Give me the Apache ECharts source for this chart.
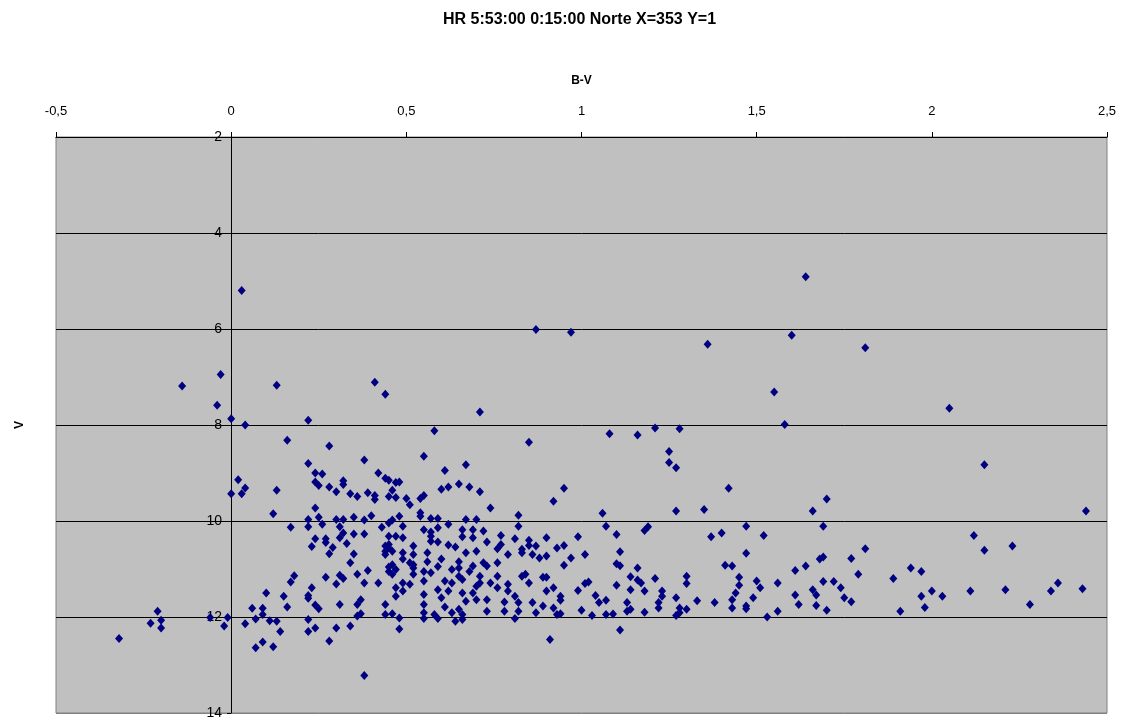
<!DOCTYPE html>
<html>
<head>
<meta charset="utf-8">
<script src="https://cdn.jsdelivr.net/npm/echarts@6/dist/echarts.min.js"></script>
<style>
  html, body { margin: 0; padding: 0; background: #fff; }
  #chart { width: 1124px; height: 723px; }
</style>
</head>
<body>
<div id="chart"></div>
<script>
// [B-V, V], grouped by region
const brightStars = [
  [0.03, 5.20], [-0.14, 7.19], [-0.03, 6.95], [-0.04, 7.59], [0.00, 7.87], [0.04, 8.00],
  [0.13, 7.17], [0.22, 7.90], [0.41, 7.11], [0.44, 7.36], [0.58, 8.12], [0.71, 7.73],
  [0.87, 6.01], [0.97, 6.07], [1.36, 6.32], [1.60, 6.13], [1.64, 4.91], [1.81, 6.39],
  [1.55, 7.31], [2.05, 7.65], [1.21, 8.06], [1.28, 8.08], [1.58, 7.99], [1.08, 8.18],
  [1.16, 8.21], [0.85, 8.36], [1.25, 8.55], [1.25, 8.78], [1.27, 8.89], [2.15, 8.83]
]
const blueStars = [
  [0.02, 9.14], [0.04, 9.31], [0.03, 9.43], [0.00, 9.43], [-0.21, 11.88], [-0.23, 12.13],
  [-0.20, 12.07], [-0.20, 12.23], [-0.32, 12.45], [-0.06, 12.01], [-0.01, 12.01],
  [-0.02, 12.19], [0.04, 12.14]
]
const whiteStars = [
  [0.16, 8.32], [0.28, 8.44], [0.22, 8.80], [0.38, 8.73], [0.24, 9.00], [0.26, 9.02],
  [0.24, 9.19], [0.25, 9.26], [0.28, 9.29], [0.30, 9.39], [0.32, 9.16], [0.32, 9.24],
  [0.34, 9.43], [0.36, 9.49], [0.39, 9.41], [0.41, 9.47], [0.41, 9.55], [0.42, 9.00],
  [0.44, 9.11], [0.45, 9.15], [0.46, 9.36], [0.45, 9.49], [0.47, 9.51], [0.47, 9.20],
  [0.13, 9.36], [0.12, 9.85], [0.17, 10.13], [0.24, 9.73], [0.22, 9.97], [0.22, 10.12],
  [0.25, 9.92], [0.26, 10.07], [0.24, 10.37], [0.23, 10.53], [0.27, 10.37], [0.27, 10.45],
  [0.29, 10.55], [0.28, 10.68], [0.30, 9.97], [0.32, 9.97], [0.31, 10.12], [0.32, 10.25],
  [0.31, 10.35], [0.33, 10.47], [0.35, 9.92], [0.35, 10.27], [0.38, 9.98], [0.38, 10.27],
  [0.40, 9.89], [0.35, 10.69], [0.34, 10.87], [0.43, 10.13], [0.45, 10.04], [0.46, 9.98],
  [0.45, 10.32], [0.47, 10.32], [0.44, 10.52], [0.45, 10.56], [0.44, 10.63], [0.46, 10.63],
  [0.44, 10.70], [0.45, 10.96], [0.47, 11.01], [0.46, 11.11], [0.45, 10.49], [0.45, 11.05],
  [0.46, 10.91], [0.18, 11.14], [0.17, 11.27], [0.10, 11.50], [0.15, 11.57], [0.16, 11.79],
  [0.06, 11.82], [0.09, 11.82], [0.09, 11.95], [0.07, 12.04], [0.11, 12.08], [0.13, 12.09],
  [0.14, 12.30], [0.09, 12.52], [0.07, 12.64], [0.12, 12.62], [0.27, 11.17], [0.23, 11.39],
  [0.22, 11.55], [0.22, 11.61], [0.24, 11.75], [0.25, 11.83], [0.22, 12.05], [0.22, 12.30],
  [0.24, 12.23], [0.28, 12.50], [0.30, 12.23], [0.31, 11.74], [0.30, 11.31], [0.31, 11.13],
  [0.32, 11.20], [0.34, 12.19], [0.36, 11.11], [0.38, 11.29], [0.39, 11.03], [0.42, 11.29],
  [0.37, 11.64], [0.36, 11.74], [0.37, 11.93], [0.36, 11.98], [0.44, 11.74], [0.44, 11.95],
  [0.46, 11.93], [0.47, 11.39], [0.47, 11.57], [0.48, 12.02], [0.48, 12.25], [0.38, 13.22]
]
const yellowStars = [
  [0.55, 8.65], [0.61, 8.95], [0.67, 8.83], [0.60, 9.34], [0.62, 9.29], [0.65, 9.23],
  [0.68, 9.29], [0.71, 9.39], [0.74, 9.73], [0.92, 9.59], [0.48, 9.19], [0.50, 9.53],
  [0.51, 9.66], [0.54, 9.53], [0.55, 9.47], [0.54, 9.83], [0.54, 9.90], [0.48, 9.90],
  [0.49, 10.11], [0.57, 9.95], [0.59, 9.95], [0.62, 10.07], [0.67, 9.97], [0.70, 9.97],
  [0.55, 10.18], [0.57, 10.23], [0.59, 10.14], [0.66, 10.18], [0.69, 10.18], [0.72, 10.21],
  [0.49, 10.35], [0.57, 10.32], [0.59, 10.44], [0.57, 10.42], [0.62, 10.50], [0.64, 10.54],
  [0.66, 10.33], [0.69, 10.35], [0.73, 10.44], [0.77, 10.30], [0.77, 10.49], [0.76, 10.58],
  [0.81, 10.37], [0.82, 10.11], [0.82, 9.88], [0.85, 10.40], [0.83, 10.59], [0.83, 10.66],
  [0.85, 10.51], [0.87, 10.52], [0.90, 10.35], [0.86, 10.70], [0.88, 10.77], [0.90, 10.73],
  [0.93, 10.56], [0.79, 10.70], [0.70, 10.63], [0.67, 10.66], [0.56, 10.66], [0.49, 10.66],
  [0.49, 10.79], [0.52, 10.70], [0.51, 10.87], [0.52, 10.98], [0.52, 11.11], [0.52, 10.91],
  [0.55, 11.05], [0.57, 11.08], [0.55, 11.25], [0.56, 10.85], [0.59, 10.95], [0.60, 10.79],
  [0.63, 11.01], [0.65, 10.85], [0.65, 10.98], [0.65, 11.15], [0.66, 11.22], [0.68, 11.05],
  [0.69, 10.94], [0.71, 11.15], [0.71, 11.29], [0.72, 10.87], [0.73, 10.94], [0.76, 10.87],
  [0.74, 11.29], [0.76, 11.15], [0.76, 11.39], [0.79, 11.32], [0.79, 11.46], [0.83, 11.15],
  [0.85, 11.29], [0.84, 11.11], [0.89, 11.17], [0.90, 11.17], [0.90, 11.46], [0.92, 11.39],
  [0.49, 11.29], [0.49, 11.46], [0.51, 11.32], [0.55, 11.53], [0.59, 11.43], [0.60, 11.60],
  [0.61, 11.25], [0.62, 11.46], [0.63, 11.29], [0.66, 11.50], [0.67, 11.67], [0.69, 11.50],
  [0.70, 11.64], [0.70, 11.36], [0.73, 11.64], [0.55, 11.74], [0.55, 11.91], [0.55, 12.03],
  [0.58, 11.95], [0.59, 12.03], [0.61, 11.79], [0.63, 11.91], [0.64, 12.09], [0.65, 11.84],
  [0.66, 12.05], [0.66, 11.95], [0.73, 11.88], [0.78, 11.88], [0.78, 11.69], [0.81, 11.57],
  [0.82, 11.70], [0.82, 11.88], [0.81, 12.03], [0.86, 11.70], [0.87, 11.91], [0.89, 11.77],
  [0.92, 11.81], [0.93, 11.95], [0.91, 12.47], [0.52, 10.52]
]
const orangeStars = [
  [0.95, 9.32], [1.06, 9.84], [1.27, 9.79], [1.35, 9.76], [1.07, 10.11], [1.10, 10.28],
  [1.18, 10.20], [1.19, 10.12], [1.37, 10.33], [0.99, 10.33], [0.95, 10.51], [1.01, 10.70],
  [0.97, 10.77], [0.95, 10.92], [1.11, 10.64], [1.10, 10.89], [1.11, 10.93], [1.16, 10.98],
  [1.14, 11.16], [1.16, 11.23], [1.17, 11.29], [1.21, 11.20], [1.30, 11.15], [1.30, 11.30],
  [0.94, 11.57], [0.94, 11.65], [0.99, 11.45], [1.01, 11.30], [1.02, 11.27], [1.04, 11.55],
  [1.05, 11.70], [1.07, 11.65], [1.10, 11.34], [1.14, 11.43], [1.18, 11.46], [1.23, 11.46],
  [1.23, 11.57], [1.22, 11.70], [1.22, 11.81], [1.27, 11.60], [1.33, 11.66], [1.38, 11.70],
  [0.94, 11.93], [1.00, 11.86], [1.03, 11.97], [1.07, 11.95], [1.09, 11.94], [1.13, 11.70],
  [1.13, 11.88], [1.14, 11.84], [1.18, 11.90], [1.27, 11.97], [1.28, 11.81], [1.28, 11.91],
  [1.30, 11.84], [1.11, 12.27]
]
const redStars = [
  [1.42, 9.32], [1.70, 9.54], [1.66, 9.79], [1.47, 10.11], [1.69, 10.11], [1.40, 10.25],
  [1.52, 10.30], [1.47, 10.67], [1.41, 10.92], [1.43, 10.94], [1.45, 11.17], [1.45, 11.34],
  [1.44, 11.50], [1.43, 11.64], [1.43, 11.81], [1.47, 11.83], [1.47, 11.77], [1.49, 11.60],
  [1.50, 11.25], [1.51, 11.39], [1.56, 11.29], [1.53, 12.00], [1.56, 11.88], [1.61, 11.54],
  [1.62, 11.74], [1.61, 11.03], [1.64, 10.94], [1.68, 10.79], [1.69, 10.75], [1.66, 11.43],
  [1.67, 11.54], [1.67, 11.76], [1.69, 11.26], [1.70, 11.86], [1.72, 11.26], [1.74, 11.39],
  [1.75, 11.60], [1.77, 11.68], [1.77, 10.78], [1.79, 11.11], [1.81, 10.58], [1.89, 11.20],
  [1.91, 11.88], [2.44, 9.79], [2.12, 10.30], [2.15, 10.61], [2.23, 10.52], [1.94, 10.98],
  [1.97, 11.05], [1.97, 11.57], [1.98, 11.80], [2.00, 11.46], [2.03, 11.57], [2.11, 11.46],
  [2.21, 11.43], [2.28, 11.74], [2.34, 11.46], [2.36, 11.29], [2.43, 11.41]
]

const xTicks = { min: -0.5, max: 2.5, step: 0.5 }
const yTicks = { min: 2, max: 14, step: 2 }

const allStars = [].concat(brightStars, blueStars, whiteStars, yellowStars, orangeStars, redStars)
const font = '"Liberation Sans", Arial, sans-serif'

const chart = echarts.init(document.getElementById('chart'))
chart.setOption({
  animation: false,
  backgroundColor: '#ffffff',
  title: {
    text: 'HR 5:53:00 0:15:00 Norte X=353 Y=1',
    left: 438,
    top: 7,
    textStyle: { fontFamily: font, fontSize: 16, fontWeight: 'bold', color: '#000' }
  },
  grid: {
    left: 56,
    right: 17,
    top: 137,
    bottom: 10,
    containLabel: false,
    outerBoundsMode: 'none',
    show: true,
    backgroundColor: '#c0c0c0',
    borderColor: '#808080',
    borderWidth: 1
  },
  xAxis: {
    type: 'value',
    position: 'top',
    min: xTicks.min,
    max: xTicks.max,
    interval: xTicks.step,
    name: 'B-V',
    nameLocation: 'middle',
    nameGap: 50,
    nameTextStyle: { fontFamily: font, fontSize: 12, fontWeight: 'bold', color: '#000' },
    axisLine: { show: true, onZero: false, lineStyle: { color: '#000', width: 1 } },
    axisTick: { show: true, inside: false, length: 5, lineStyle: { color: '#000' } },
    axisLabel: {
      margin: 19,
      fontFamily: font,
      fontSize: 13,
      color: '#000',
      formatter: function(v) {
        return String(v).replace('.', ',')
      }
    },
    splitLine: { show: false }
  },
  yAxis: {
    type: 'value',
    position: 'left',
    offset: -175,  // sits on B-V = 0, like the Excel original
    inverse: true,
    min: yTicks.min,
    max: yTicks.max,
    interval: yTicks.step,
    name: 'V',
    nameLocation: 'middle',
    nameGap: 205,
    nameRotate: 90,
    nameTextStyle: { fontFamily: font, fontSize: 12, fontWeight: 'bold', color: '#000' },
    axisLine: { show: true, onZero: false, lineStyle: { color: '#000', width: 1 } },
    axisTick: { show: true, inside: false, length: 4, lineStyle: { color: '#000' } },
    axisLabel: { margin: 9, fontFamily: font, fontSize: 14, color: '#000' },
    splitLine: {
      show: true,
      lineStyle: {
        color: ['#000', '#000', '#000', '#000', '#000', '#000', '#808080'],
        width: 1
      }
    }
  },
  series: [{
    type: 'scatter',
    symbol: 'diamond',
    symbolSize: [8, 9],
    itemStyle: { color: '#000080', opacity: 1 },
    data: allStars
  }]
})
</script>
</body>
</html>
